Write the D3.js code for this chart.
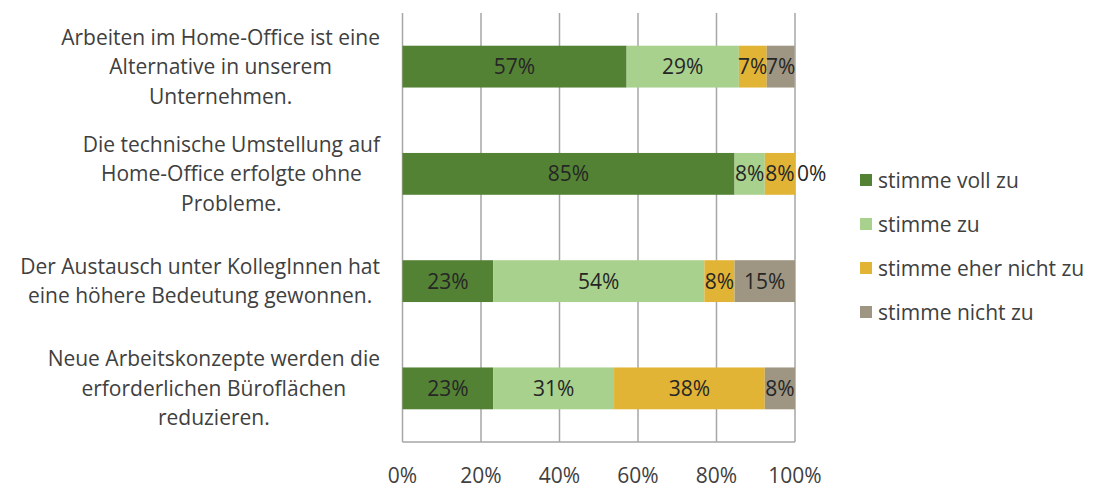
<!DOCTYPE html>
<html><head><meta charset="utf-8">
<script src="https://cdn.jsdelivr.net/npm/d3@7/dist/d3.min.js"></script>
<style>body{margin:0;background:#fff}svg{display:block}text{font-family:"Open Sans",sans-serif}</style>
</head><body>
<script>
const categories = [
  ["Arbeiten im Home-Office ist eine","Alternative in unserem","Unternehmen."],
  ["Die technische Umstellung auf","Home-Office erfolgte ohne","Probleme."],
  ["Der Austausch unter KollegInnen hat","eine höhere Bedeutung gewonnen."],
  ["Neue Arbeitskonzepte werden die","erforderlichen Büroflächen","reduzieren."]
];
const seriesNames = ["stimme voll zu","stimme zu","stimme eher nicht zu","stimme nicht zu"];
const stimmeVollZu      = [57.1, 84.6, 23.1, 23.1];
const stimmeZu          = [28.6, 7.7, 53.8, 30.8];
const stimmeEherNichtZu = [7.1, 7.7, 7.7, 38.4];
const stimmeNichtZu     = [7.1, 0.0, 15.4, 7.7];
const tickValues = [0, 20, 40, 60, 80, 100];
const colors = ["#548235","#a9d18e","#e2b436","#9e9682"];

const W = 1113, H = 496, FS = 21;
const svg = d3.select("body").append("svg").attr("width", W).attr("height", H);
const x = d3.scaleLinear().domain([0,100]).range([402.5,795]);
const y = d3.scaleBand().domain(d3.range(categories.length)).range([13,442]).paddingInner(0.61).paddingOuter(0.305);

const series = [stimmeVollZu, stimmeZu, stimmeEherNichtZu, stimmeNichtZu];
const rows = categories.map((c,i)=>{const r={i}; series.forEach((s,k)=>r["s"+k]=s[i]); return r;});
const stack = d3.stack().keys(series.map((s,k)=>"s"+k))(rows);

// gridlines
svg.append("g").selectAll("line").data(tickValues).join("line")
  .attr("x1", d=>x(d)).attr("x2", d=>x(d)).attr("y1", 13).attr("y2", 442)
  .attr("stroke", "#a6a6a6").attr("stroke-width", 1.5);
svg.append("line").attr("x1", x(0)).attr("x2", x(100)).attr("y1", 442).attr("y2", 442)
  .attr("stroke", "#a6a6a6").attr("stroke-width", 1.5);

// bars
stack.forEach((layer,k)=>{
  const g = svg.append("g");
  g.selectAll("rect").data(layer).join("rect")
    .attr("x", d=>x(d[0])).attr("width", d=>x(d[1])-x(d[0]))
    .attr("y", (d,i)=>y(i)).attr("height", y.bandwidth())
    .attr("fill", colors[k]);
  g.selectAll("text").data(layer).join("text")
    .attr("x", d=> d[1]-d[0] > 0 ? (x(d[0])+x(d[1]))/2 : x(d[1])+2)
    .attr("text-anchor", d=> d[1]-d[0] > 0 ? "middle" : "start")
    .attr("y", (d,i)=>y(i)+y.bandwidth()/2).attr("dy","0.36em")
    .attr("font-size", FS).attr("fill", "#262626")
    .text(d=>Math.round(d[1]-d[0])+"%");
});

// x tick labels
svg.append("g").selectAll("text").data(tickValues).join("text")
  .attr("x", d=>x(d)).attr("y", 475).attr("dy","0.36em").attr("text-anchor","middle")
  .attr("font-size", FS).attr("fill", "#404040").text(d=>d+"%");

// category labels
const lineH = 29.5;
categories.forEach((lines,i)=>{
  const cy = y(i)+y.bandwidth()/2;
  const g = svg.append("g");
  const t = g.selectAll("text").data(lines).join("text")
    .attr("y", (d,j)=>cy + (j-(lines.length-1)/2)*lineH).attr("dy","0.36em")
    .attr("text-anchor","middle").attr("font-size", FS).attr("fill","#404040").text(d=>d);
  let maxW = 0; t.each(function(){maxW = Math.max(maxW, this.getComputedTextLength());});
  t.attr("x", 380 - maxW/2);
});

// legend
const lg = svg.append("g").selectAll("g").data(seriesNames).join("g")
  .attr("transform", (d,k)=>`translate(860,${180+k*44})`);
lg.append("rect").attr("x",0).attr("y",-6).attr("width",12).attr("height",12).attr("fill",(d,k)=>colors[k]);
lg.append("text").attr("x",18).attr("dy","0.36em").attr("font-size",FS).attr("fill","#404040").text(d=>d);
</script>
</body></html>
